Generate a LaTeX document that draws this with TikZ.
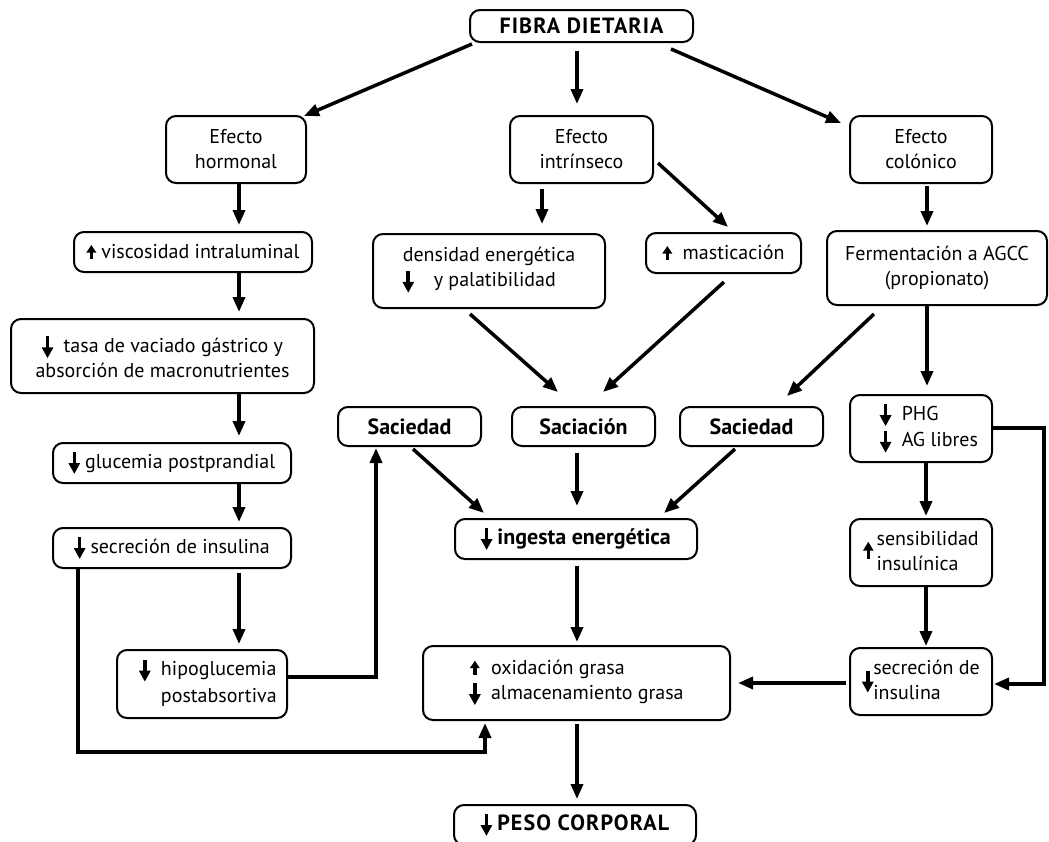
\documentclass[tikz,border=0pt]{standalone}
\usepackage{fontspec}
\setmainfont{PT Sans}
\usetikzlibrary{arrows.meta,calc}
\newcommand{\dnar}{\tikz[baseline=0pt,x=1pt,y=1pt]{\draw[black,line width=3.6pt,-{Triangle[length=11pt,width=11pt]}] (0,16)--(0,-6);}}
\newcommand{\upar}{\tikz[baseline=0pt,x=1pt,y=1pt]{\draw[black,line width=3.4pt,-{Triangle[length=7.5pt,width=9.5pt]}] (0,-0.5)--(0,13.5);}}
\newcommand{\uparbig}{\tikz[baseline=0pt,x=1pt,y=1pt]{\draw[black,line width=3.4pt,-{Triangle[length=9pt,width=10pt]}] (0,-1)--(0,16);}}
\newcommand{\bigb}[1]{{\fontsize{22}{26}\selectfont\bfseries #1}}
\newcommand{\bigcaps}[1]{{\fontsize{22}{26}\selectfont\bfseries\addfontfeature{LetterSpace=5}#1}}
\begin{document}
\begin{tikzpicture}[x=1pt,y=-1pt,
  box/.style={draw, line width=2pt, rounded corners=10pt, inner sep=0pt, align=center,
    font=\fontsize{20}{25}\selectfont},
  boxl/.style={box, align=left},
  arr/.style={line width=3.5pt, -{Triangle[length=15pt,width=12pt]}}]
\useasboundingbox (0,0) rectangle (1049,841);
% nodes
\node[box, minimum width=223pt, minimum height=32pt] (fibra) at (581.5,26) {\bigcaps{FIBRA DIETARIA}};
\node[box, minimum width=140pt, minimum height=67pt] (hormonal) at (236,149.5) {Efecto\\hormonal};
\node[box, minimum width=143pt, minimum height=67pt] (intr) at (581.5,149.5) {Efecto\\intrínseco};
\node[box, minimum width=142pt, minimum height=67pt] (colon) at (921,149.5) {Efecto\\colónico};
\node[box, minimum width=238pt, minimum height=40pt] (visc) at (193,252) {\upar\ viscosidad intraluminal};
\node[box, minimum width=303pt, minimum height=74pt] (tasa) at (162.5,356) {\dnar\ \ tasa de vaciado gástrico y\\absorción de macronutrientes};
\node[boxl, minimum width=232pt, minimum height=74pt] (dens) at (489,271) {densidad energética\\\dnar\quad y palatibilidad};
\node[box, minimum width=155pt, minimum height=40pt] (mast) at (723.5,253) {\upar\ \ masticación};
\node[box, minimum width=220pt, minimum height=74pt] (ferm) at (937,268) {Fermentación a AGCC\\(propionato)};
\node[box, minimum width=143pt, minimum height=39pt] (sacL) at (409.5,426.5) {\bigb{Saciedad}};
\node[box, minimum width=143pt, minimum height=39pt] (sacC) at (583.5,426.5) {\bigb{Saciación}};
\node[box, minimum width=143pt, minimum height=39pt] (sacR) at (751.5,426.5) {\bigb{Saciedad}};
\node[boxl, minimum width=142pt, minimum height=67pt] (phg) at (921,428.5) {\hspace*{16pt}\dnar\ \ PHG\\\hspace*{16pt}\dnar\ \ AG libres};
\node[box, minimum width=238pt, minimum height=40pt] (gluc) at (172,463) {\dnar\ glucemia postprandial};
\node[box, minimum width=242pt, minimum height=40pt] (ingesta) at (576,539) {\dnar\ \bigb{ingesta energética}};
\node[box, minimum width=238pt, minimum height=40pt] (secL) at (172,548) {\dnar\ secreción de insulina};
\node[box, minimum width=142pt, minimum height=67pt] (sens) at (921,552.5) {\uparbig\,\begin{tabular}{@{}l@{}}sensibilidad\\insulínica\end{tabular}};
\node[boxl, minimum width=170pt, minimum height=68pt] (hipo) at (202,684) {\hspace*{12pt}\dnar\ \ hipoglucemia\\\hspace*{12pt}\phantom{\dnar\ \ }postabsortiva};
\node[boxl, minimum width=307pt, minimum height=74pt] (oxid) at (576.5,683) {\makebox[11pt]{\upar}\ \ oxidación grasa\\\makebox[11pt]{\dnar}\ \ almacenamiento grasa};
\node[box, minimum width=142pt, minimum height=67pt] (secR) at (921,681.5) {\dnar\begin{tabular}{@{}l@{}}secreción de\\insulina\end{tabular}};
\node[box, minimum width=242pt, minimum height=40pt] (peso) at (575,825) {\dnar\ \bigcaps{PESO CORPORAL}};
% column coordinates
\coordinate (c1) at (239,0);
\coordinate (cm) at (577,0);
\coordinate (c2) at (542,0);
\coordinate (c3) at (927,0);
\coordinate (c4) at (926,0);
% connectors
\draw[arr] ($(fibra.south west)+(3,1)$) -- ($(hormonal.north east)+(-3,1)$);
\draw[arr] ($(fibra.south -| cm)+(0,8)$) -- ($(intr.north -| cm)+(0,-11)$);
\draw[arr] ($(fibra.south east)+(-23,6)$) -- ($(colon.north west)+(-8,8)$);
\draw[arr] (hormonal.south -| c1) -- ($(visc.north -| c1)+(0,-6)$);
\draw[arr] (visc.south -| c1) -- ($(tasa.north -| c1)+(0,-6)$);
\draw[arr] (tasa.south -| c1) -- ($(gluc.north -| c1)+(0,-6)$);
\draw[arr] (gluc.south -| c1) -- ($(secL.north -| c1)+(0,-5)$);
\draw[arr] ($(secL.south -| c1)+(0,4)$) -- ($(hipo.north -| c1)+(0,-5)$);
\draw[arr] ($(hipo.east)+(0,-7)$) -| ($(sacL.south)+(-33.5,1)$);
\draw[arr] ($(secL.south west)+(26,0)$) |- ($(oxid.south west)+(63,31)$) -- ($(oxid.south west)+(63,2)$);
\draw[arr] ($(intr.south -| c2)+(0,5)$) -- ($(dens.north -| c2)+(0,-9)$);
\draw[arr] ($(intr.east)+(4,13.5)$) -- ($(mast.north)+(4.5,-5)$);
\draw[arr] ($(colon.south -| c3)+(0,2)$) -- ($(ferm.north -| c3)+(0,-4)$);
\draw[arr] ($(dens.south)+(-19,5)$) -- ($(sacC.north)+(-25.5,-14)$);
\draw[arr] ($(mast.south)+(0.5,8)$) -- ($(sacC.north)+(19.5,-14)$);
\draw[arr] ($(ferm.south)+(-63,8)$) -- ($(sacR.north)+(35.5,-10)$);
\draw[arr] (ferm.south -| c3) -- ($(phg.north -| c3)+(0,-8)$);
\draw[arr] ($(sacL.south)+(3.5,2)$) -- ($(ingesta.north west)+(30,-5)$);
\draw[arr] ($(sacC.south -| cm)+(0,6)$) -- ($(ingesta.north -| cm)+(0,-12)$);
\draw[arr] ($(sacR.south)+(-16.5,2)$) -- ($(ingesta.north east)+(-34,-5)$);
\draw[arr] (phg.south -| c4) -- ($(sens.north -| c4)+(0,-2)$);
\draw[arr] (sens.south -| c4) -- ($(secR.north -| c4)+(0,-1)$);
\draw[arr] ($(phg.east)+(0,-0.5)$) -- ++(51,0) |- ($(secR.east)+(1,2.5)$);
\draw[arr] ($(secR.west |- oxid.east)+(-3,0)$) -- ($(oxid.east)+(7,0)$);
\draw[arr] ($(ingesta.south -| cm)+(0,6)$) -- ($(oxid.north -| cm)+(0,-3)$);
\draw[arr] ($(oxid.south -| cm)+(0,3)$) -- ($(peso.north -| cm)+(0,-5)$);
\end{tikzpicture}
\end{document}
